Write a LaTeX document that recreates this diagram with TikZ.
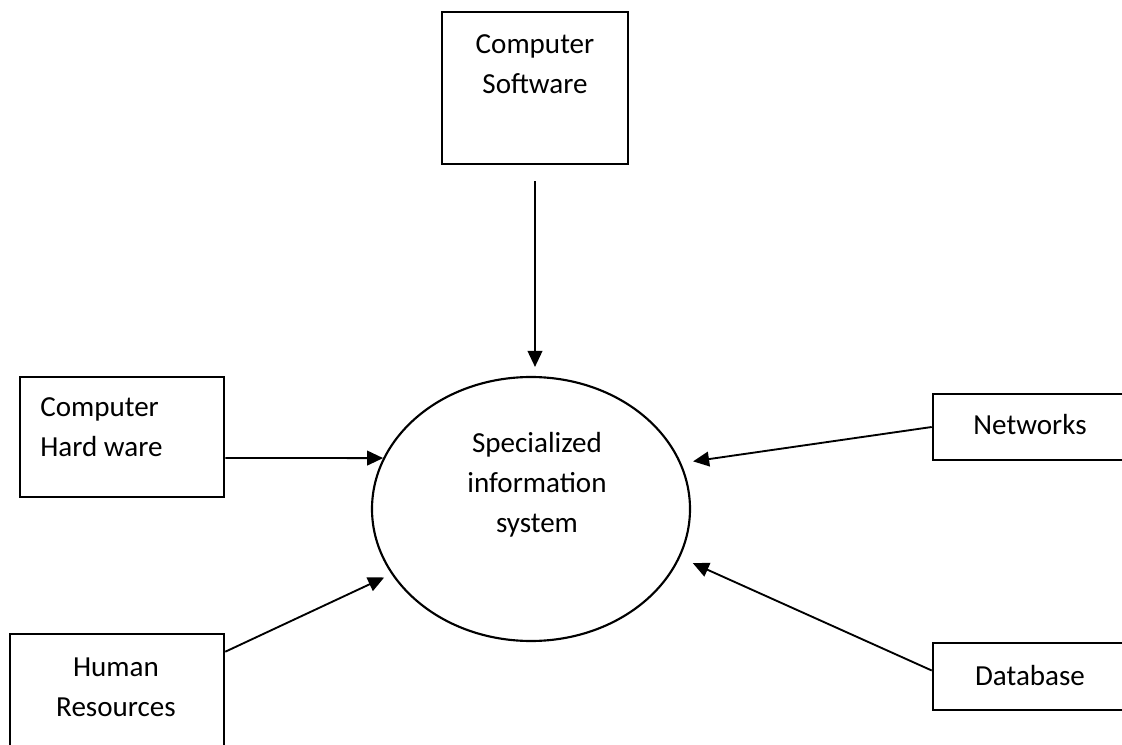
\documentclass[tikz,border=0pt]{standalone}
\usepackage{fontspec}
\setmainfont{Carlito}
\usetikzlibrary{shapes.geometric,arrows.meta}
\tikzset{
    box/.style={draw, line width=1.9pt, inner sep=0pt},
    txt/.style={font=\fontsize{21.8pt}{30pt}\selectfont, align=center, inner sep=0pt},
    arr/.style={line width=1.4pt, -{Triangle[length=12pt,width=11pt]}}
}

\begin{document}
\begin{tikzpicture}[x=0.75pt,y=-0.75pt]
\useasboundingbox (0,0) rectangle (1122,745);
\clip (0,0) rectangle (1122,745);

% boxes
\node[box, minimum width=186*0.75pt, minimum height=152*0.75pt] (soft) at (535,88) {};
\node[box, minimum width=204*0.75pt, minimum height=120*0.75pt] (hard) at (122,437) {};
\node[box, minimum width=214*0.75pt, minimum height=156*0.75pt] (hum) at (117,712) {};
\node[box, minimum width=217*0.75pt, minimum height=66*0.75pt] (net) at (1041.5,427) {};
\node[box, minimum width=217*0.75pt, minimum height=67*0.75pt] (db) at (1041.5,676.5) {};
\node[draw, ellipse, line width=1.6pt, inner sep=0pt,
      minimum width=318*0.75pt, minimum height=264*0.75pt] (sis) at (531,509) {};

% texts
\node[txt] (softtxt) at (535,64) {Computer\\Software};
\node[txt, align=left, anchor=west] (hardtxt) at (40,427) {Computer\\Hard ware};
\node[txt] (humtxt) at (116,687) {Human\\Resources};
\node[txt] (nettxt) at (1030,425) {Networks};
\node[txt] (dbtxt) at (1030,676) {Database};
\node[txt] (sistxt) at (537,485) {Specialized\\information\\system};

% arrows
\draw[arr, shorten <=12pt, shorten >=6.75pt] (soft.south) -- (soft.south |- sis.north);
\draw[arr] ([yshift=-15.75pt]hard.east) -- (sis.161.7);
\draw[arr, shorten >=6pt] ([yshift=-14.25pt]hum.north east) -- (sis.205);
\draw[arr, shorten >=9pt] (net.west) -- (sis.17.7);
\draw[arr, shorten >=10.5pt] ([yshift=4.5pt]db.west) -- (sis.-18.5);
\end{tikzpicture}
\end{document}
